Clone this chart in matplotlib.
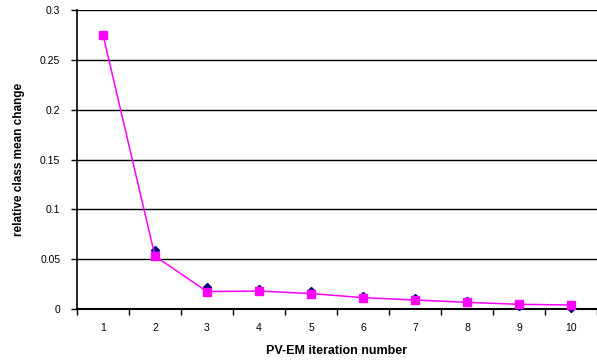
import numpy as np
import matplotlib
matplotlib.use("Agg")
import matplotlib.pyplot as plt
from matplotlib.ticker import FixedLocator, FuncFormatter

# data
iterations = [1, 2, 3, 4, 5, 6, 7, 8, 9, 10]
series_a = [0.275, 0.059, 0.0217, 0.0197, 0.0177, 0.0134, 0.0107, 0.008, 0.003, 0.0013]
series_b = [0.275, 0.053, 0.0175, 0.018, 0.0155, 0.0114, 0.009, 0.0067, 0.0047, 0.004]
y_ticks = [0, 0.05, 0.1, 0.15, 0.2, 0.25, 0.3]

plt.rcParams['font.family'] = ['Liberation Sans', 'DejaVu Sans']

fig = plt.figure(figsize=(5.97, 3.64), dpi=100)
ax = fig.add_axes([77 / 597, 55 / 364, 520 / 597, 299 / 364])

ax.plot(iterations, series_a, linestyle='none', marker='D', markersize=4,
        color='#000080', zorder=3, clip_on=False)
ax.plot(iterations, series_b, color='#FF00FF', linewidth=1.1, marker='s',
        markersize=5.5, zorder=4, clip_on=False)

ax.set_xlim(0.5, 10.5)
ax.set_ylim(0, 0.3)

ax.set_yticks(y_ticks)
ax.yaxis.set_major_formatter(FuncFormatter(lambda v, p: f"{v:g}"))
ax.yaxis.grid(True, color='black', linewidth=1)
ax.set_axisbelow(True)

ax.set_xticks(iterations)
ax.xaxis.set_minor_locator(FixedLocator(np.arange(0.5, 11, 1)))
ax.tick_params(axis='x', which='major', length=0, pad=10, labelsize=7.5)
ax.tick_params(axis='x', which='minor', length=4, width=1, direction='out')
ax.tick_params(axis='y', length=4, width=1, direction='out', labelsize=7.5, pad=8)

for s in ['top', 'right']:
    ax.spines[s].set_visible(False)
ax.spines['left'].set_linewidth(1.2)
ax.spines['bottom'].set_linewidth(1.5)

ax.set_xlabel('PV-EM iteration number', fontweight='bold', fontsize=9, labelpad=9)
ax.set_ylabel('relative class mean change', fontweight='bold', fontsize=8.5, labelpad=11)

fig.savefig('out.png', dpi=100)
